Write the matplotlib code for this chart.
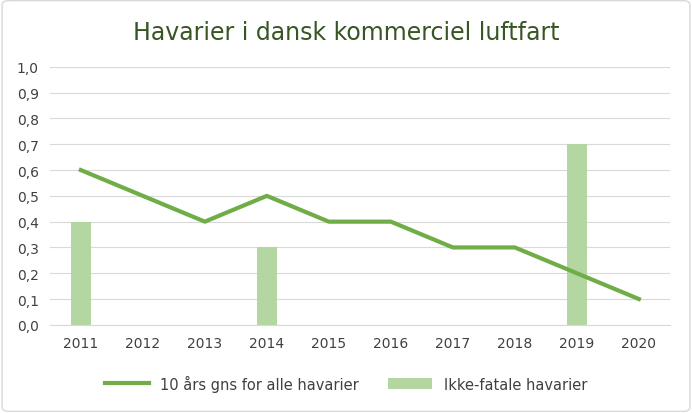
import matplotlib.pyplot as plt
from matplotlib.patches import FancyBboxPatch

years = ['2011', '2012', '2013', '2014', '2015', '2016', '2017', '2018', '2019', '2020']
ikke_fatale = [0.4, 0, 0, 0.3, 0, 0, 0, 0, 0.7, 0]
gns_alle = [0.6, 0.5, 0.4, 0.5, 0.4, 0.4, 0.3, 0.3, 0.2, 0.1]
y_ticks = [0.0, 0.1, 0.2, 0.3, 0.4, 0.5, 0.6, 0.7, 0.8, 0.9, 1.0]

fig = plt.figure(figsize=(6.92, 4.14), dpi=100)
fig.patches.append(FancyBboxPatch((0.003, 0.004), 0.994, 0.992, boxstyle='round,pad=0,rounding_size=0.01',
                                  transform=fig.transFigure, fill=False, edgecolor='#d9d9d9', linewidth=1))
ax = fig.add_axes([0.072, 0.213, 0.896, 0.623])

x = range(len(years))
ax.bar(x, ikke_fatale, width=0.32, color='#b4d7a1', label='Ikke-fatale havarier', zorder=2)
ax.plot(x, gns_alle, color='#70ad47', linewidth=3, label='10 års gns for alle havarier', zorder=3)

ax.set_xlim(-0.5, len(years) - 0.5)
ax.set_ylim(0, 1.0)
ax.set_yticks(y_ticks)
ax.set_yticklabels([f'{v:.1f}'.replace('.', ',') for v in y_ticks])
ax.set_xticks(list(x))
ax.set_xticklabels(years)
ax.tick_params(length=0, labelsize=10, colors='#404040', pad=8)
ax.grid(axis='y', color='#d9d9d9', linewidth=0.8, zorder=0)
for s in ['top', 'right', 'left']:
    ax.spines[s].set_visible(False)
ax.spines['bottom'].set_color('#d9d9d9')

fig.suptitle('Havarier i dansk kommerciel luftfart', y=0.95, fontsize=17, color='#375623')
fig.legend(loc='lower center', bbox_to_anchor=(0.5, 0.02), ncol=2, frameon=False,
           fontsize=10.5, labelcolor='#404040', handlelength=3, columnspacing=2)

plt.savefig('out.png', dpi=100)
